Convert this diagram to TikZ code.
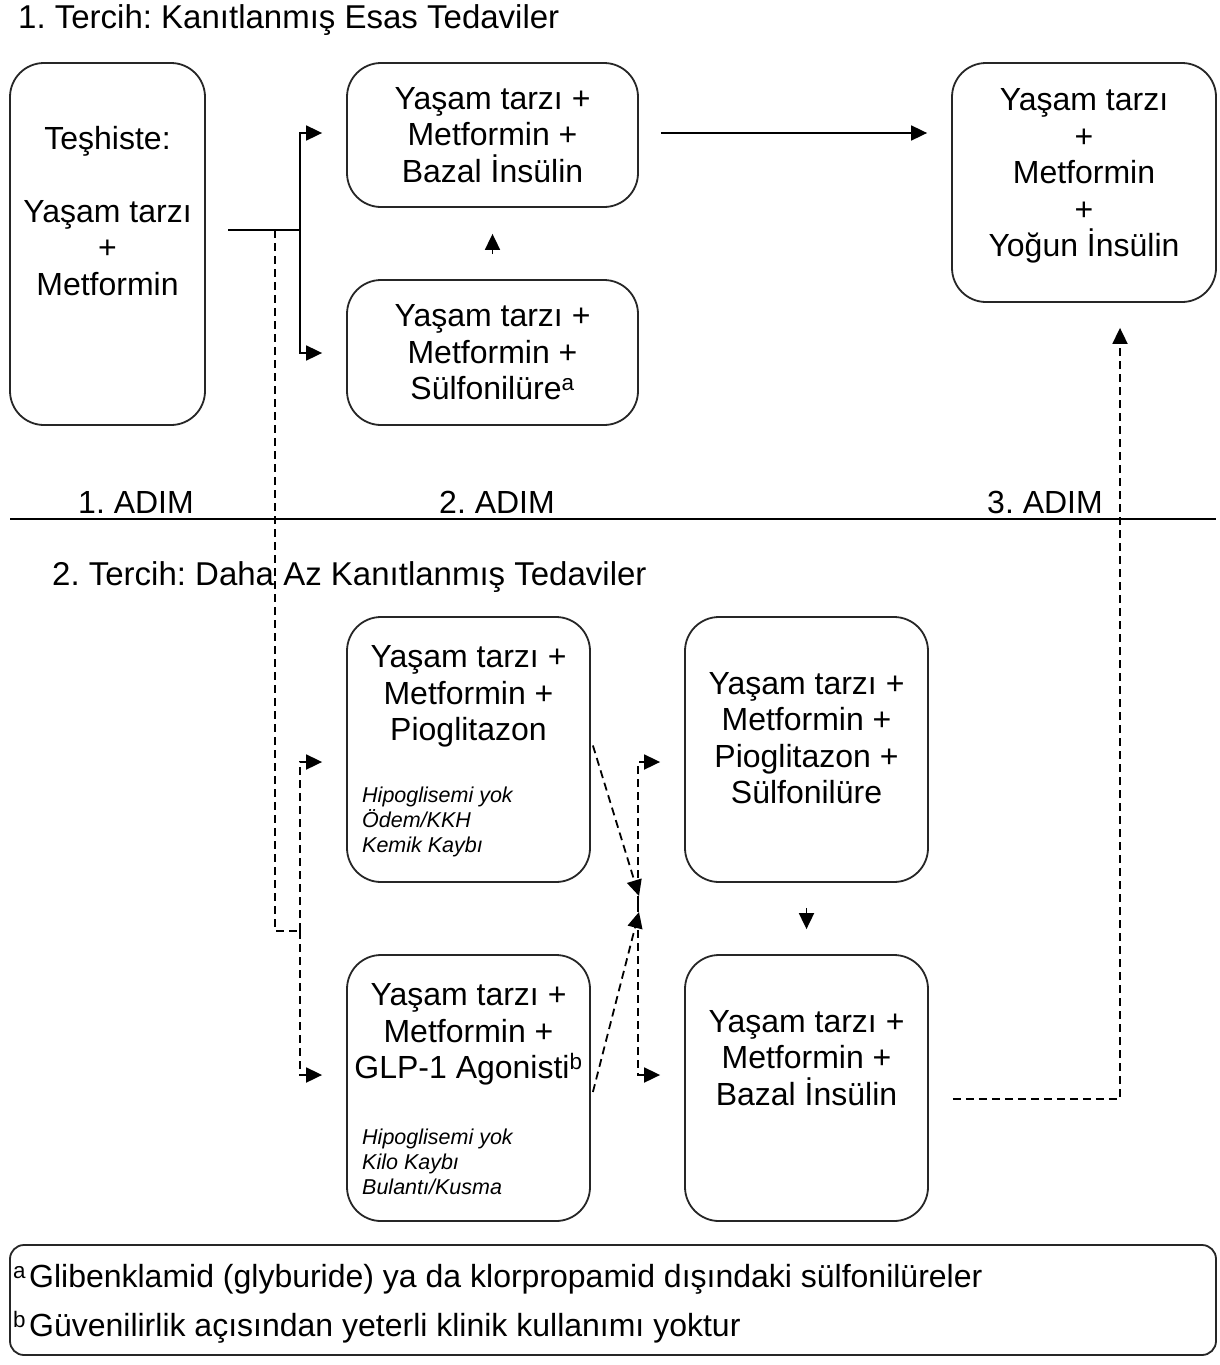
\documentclass[tikz,border=0pt]{standalone}
\usepackage{fontspec}
\setmainfont{Liberation Sans}
\usetikzlibrary{arrows.meta,calc}
\frenchspacing

\begin{document}
\begin{tikzpicture}[x=1pt,y=-1pt,
  box/.style={draw=black!85, line width=1.8pt, rounded corners=34pt, inner sep=0pt},
  txt/.style={font=\fontsize{32}{36.5}\selectfont, align=center, inner sep=0pt},
  note/.style={font=\fontsize{21.5}{25}\selectfont\itshape, align=left, anchor=west, inner sep=0pt},
  lbl/.style={font=\fontsize{32}{36}\selectfont, inner sep=0pt},
  head/.style={font=\fontsize{33}{36}\selectfont, inner sep=0pt, anchor=west},
  link/.style={line width=1.8pt, draw=black},
  arr/.style={link, -{Triangle[length=16pt,width=15pt]}},
  dlink/.style={link, dash pattern=on 8pt off 5pt},
  darr/.style={dlink, -{Triangle[length=16pt,width=15pt]}}
]
\useasboundingbox (0,0) rectangle (1219,1365);
\fill[white] (0,0) rectangle (1219,1365);

% section headings
\node[head] (h1) at (18,20) {1. Tercih: Kanıtlanmış Esas Tedaviler};
\node[head] (h2) at (52,577) {2. Tercih: Daha Az Kanıtlanmış Tedaviler};

% first-choice boxes
\node[box, minimum width=195pt, minimum height=362pt] (A) at (107.5,244) {};
\node[txt] (At) at (107.5,211) {Teşhiste:\\[36pt]Yaşam tarzı\\+\\Metformin};
\node[box, minimum width=291pt, minimum height=144pt] (B) at (492.5,135) {};
\node[txt] (Bt) at (492.5,135) {Yaşam tarzı +\\Metformin +\\Bazal İnsülin};
\node[box, minimum width=291pt, minimum height=145pt] (C) at (492.5,352.5) {};
\node[txt] (Ct) at (492.5,352.5) {Yaşam tarzı +\\Metformin +\\Sülfonilüre\textsuperscript{a}};
\node[box, minimum width=264pt, minimum height=239pt] (D) at (1084,182.5) {};
\node[txt] (Dt) at (1084,176) {Yaşam tarzı\\+\\Metformin\\+\\Yoğun İnsülin};

% step labels and separator
\node[lbl] (s1) at (136,502) {1. ADIM};
\node[lbl] (s2) at (497,502) {2. ADIM};
\node[lbl] (s3) at (1045,502) {3. ADIM};
\draw[line width=1.8pt] (10,519) -- (1216,519);

% second-choice boxes
\node[box, minimum width=243pt, minimum height=265pt] (E) at (468.5,749.5) {};
\node[txt] (Et) at (468.5,696.5) {Yaşam tarzı +\\Metformin +\\Pioglitazon};
\node[note] (En) at (362,822) {Hipoglisemi yok\\Ödem/KKH\\Kemik Kaybı};
\node[box, minimum width=243pt, minimum height=266pt] (F) at (468.5,1088) {};
\node[txt] (Ft) at (468.5,1034.5) {Yaşam tarzı +\\Metformin +\\GLP-1 Agonisti\textsuperscript{b}};
\node[note] (Fn) at (362,1162) {Hipoglisemi yok\\Kilo Kaybı\\Bulantı/Kusma};
\node[box, minimum width=243pt, minimum height=265pt] (G) at (806.5,749.5) {};
\node[txt] (Gt) at (806.5,738) {Yaşam tarzı +\\Metformin +\\Pioglitazon +\\Sülfonilüre};
\node[box, minimum width=243pt, minimum height=266pt] (H) at (806.5,1088) {};
\node[txt] (Ht) at (806.5,1058) {Yaşam tarzı +\\Metformin +\\Bazal İnsülin};

% footnotes
\node[box, rounded corners=14pt, minimum width=1206pt, minimum height=110pt] (N) at (613,1300) {};
\node[lbl, anchor=west] (Na) at (13,1279) {\textsuperscript{a}\hspace{3pt}Glibenklamid (glyburide) ya da klorpropamid dışındaki sülfonilüreler};
\node[lbl, anchor=west] (Nb) at (13,1327) {\textsuperscript{b}\hspace{3pt}Güvenilirlik açısından yeterli klinik kullanımı yoktur};

% junction points
\coordinate (j0) at (228,230);
\coordinate (j1) at (300,230);
\coordinate (j2) at (275,230);
\coordinate (j3) at (300,931);
\coordinate (m) at (638,904);
\coordinate (m1) at (639,896);
\coordinate (m2) at (639,912);

% first-choice connectors
\draw[link] (j0) -- (j1);
\draw[arr] (j1) |- ($(B.west)+(-24,-2)$);
\draw[arr] (j1) |- ($(C.west)+(-24,0.5)$);
\draw[arr, shorten <=22pt, shorten >=24pt] ($(B.east)+(0,-2)$) -- ($(D.west |- B.east)+(0,-2)$);
\draw[arr, shorten <=25pt, shorten >=26pt] (C.north) -- (B.south);

% second-choice connectors
\draw[dlink] (j2) |- (j3);
\draw[darr] (j3) |- ($(E.west)+(-24,12.5)$);
\draw[darr] (j3) |- ($(F.west)+(-24,-13)$);
\draw[darr] ($(E.east)+(2,-4)$) -- (m1);
\draw[darr] ($(F.east)+(2,4)$) -- (m2);
\draw[darr] (m) |- ($(G.west)+(-24,12.5)$);
\draw[darr] (m) |- ($(H.west)+(-24,-13)$);
\draw[arr, shorten <=25pt, shorten >=25pt] (G.south) -- (H.north);
\draw[darr] ($(H.east)+(24,11)$) -| ($(D.south)+(36,25)$);
\end{tikzpicture}
\end{document}
